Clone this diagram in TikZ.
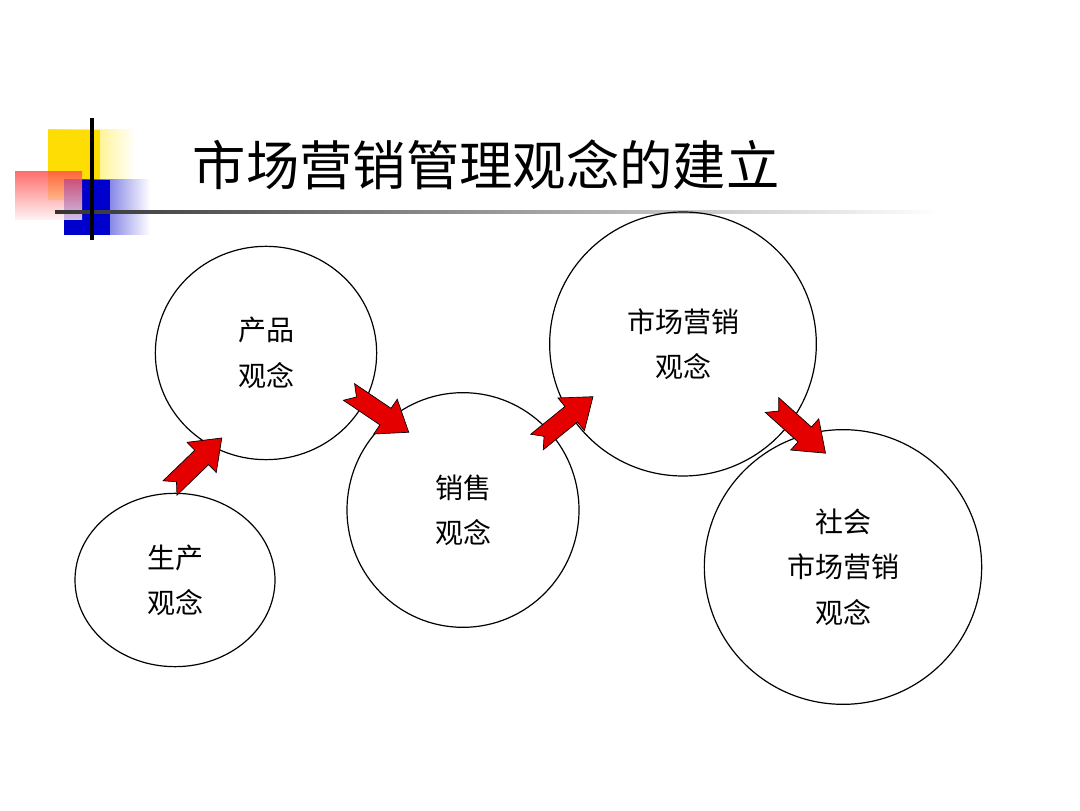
\documentclass[tikz,border=0pt]{standalone}
\usepackage{fontspec}
\setmainfont{Noto Sans CJK SC}
\usetikzlibrary{shapes.geometric}
\begin{document}
\begin{tikzpicture}[x=0.75pt,y=0.75pt,
  conc/.style={draw,ellipse,line width=0.9pt,align=center,font=\fontsize{21}{34}\selectfont,inner sep=0pt},
  pics/notch/.style={code={\fill[red!90!black] (0,-10)--(44,-10)--(44,-21)--(72,0)--(44,21)--(44,10)--(0,10)--(9,0)--cycle;
     \draw[line width=0.5pt] (0,-10)--(44,-10)--(44,-21)--(72,0)--(44,21)--(44,10)--(0,10)--(9,0)--cycle;}}]
\useasboundingbox (0,0) rectangle (1080,810);
% decoration
\shade[left color=yellow!80!orange,right color=white] (48,610) rectangle (135,680);
\fill[yellow!80!orange] (48,610) rectangle (100,680);
\shade[left color=blue!80!black,right color=white] (64,575) rectangle (150,630);
\fill[blue!80!black] (64,575) rectangle (110,630);
\shade[top color=red!70,bottom color=red!5,opacity=0.8] (15,590) rectangle (82,638);
\shade[left color=black!80,right color=white] (55,596.5) rectangle (940,599.5);
\draw[line width=2.5pt] (92,570)--(92,692);
\node[font=\fontsize{40}{44}\selectfont,anchor=west] (title) at (188,645) {市场营销管理观念的建立};
% circles
\node[conc,minimum width=150,minimum height=130] (a) at (175,230) {生产\\观念};
\node[conc,minimum width=166,minimum height=160] (b) at (266,457) {产品\\观念};
\node[conc,minimum width=174,minimum height=176] (c) at (463,300) {销售\\观念};
\node[conc,minimum width=200,minimum height=198] (d) at (683,466) {市场营销\\观念};
\node[conc,minimum width=208,minimum height=206] (e) at (843,243) {社会\\市场营销\\观念};
% arrows
\pic[rotate=44] at (170,322) {notch};
\pic[rotate=-34] at (349,418) {notch};
\pic[rotate=39] at (537,368) {notch};
\pic[rotate=-42] at (772,405) {notch};
\end{tikzpicture}
\end{document}
